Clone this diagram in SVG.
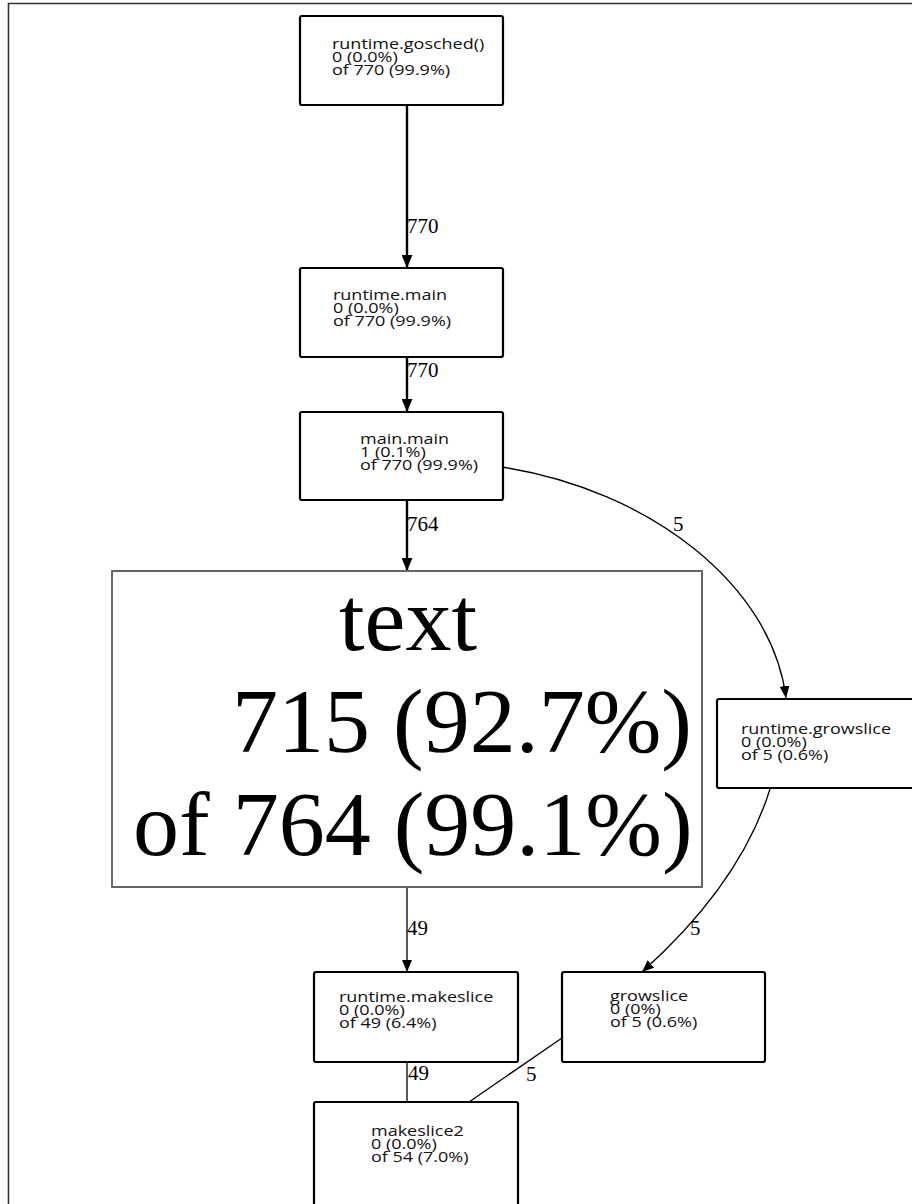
<svg xmlns="http://www.w3.org/2000/svg" width="912" height="1204" viewBox="0 0 912 1204">
<defs>
<marker id="ah" viewBox="0 0 12 10" refX="12" refY="5" markerWidth="12" markerHeight="10" markerUnits="userSpaceOnUse" orient="auto">
<path d="M0,0 L12,5 L0,10 z" fill="#000"/>
</marker>
<marker id="ahb" viewBox="0 0 12 10" refX="12" refY="5" markerWidth="13" markerHeight="11" markerUnits="userSpaceOnUse" orient="auto">
<path d="M0,0 L12,5 L0,10 z" fill="#000"/>
</marker>
</defs>
<style>
.box{fill:#fff;stroke:#000;stroke-width:2.2}
.big{fill:#fff;stroke:#666;stroke-width:2}
.nt{font-family:"Open Sans","Noto Sans",sans-serif;font-size:15px;fill:#111}
.el{font-family:"Liberation Serif",serif;font-size:21px;fill:#000}
.bt{font-family:"Liberation Serif",serif;font-size:92px;fill:#000}
.e{fill:none;stroke:#000;stroke-width:1.3}
.ew{fill:none;stroke:#000;stroke-width:2.4}
</style>
<rect x="0" y="0" width="912" height="1204" fill="#fff"/>
<path d="M8.5,1204 V3.5 H912" fill="none" stroke="#333" stroke-width="1.6"/>
<g id="connectors">
<line class="ew" x1="407" y1="105" x2="407" y2="268" marker-end="url(#ahb)"/>
<text class="el" x="407" y="233">770</text>
<line class="ew" x1="407" y1="357" x2="407" y2="412" marker-end="url(#ahb)"/>
<text class="el" x="407" y="377">770</text>
<line class="ew" x1="407" y1="500" x2="407" y2="571" marker-end="url(#ahb)"/>
<text class="el" x="407" y="531">764</text>
<path class="e" d="M502,467 C650,490 772,585 786,698" marker-end="url(#ah)"/>
<text class="el" x="673" y="531">5</text>
<line class="e" x1="407" y1="887" x2="407" y2="972" marker-end="url(#ah)"/>
<text class="el" x="407" y="935">49</text>
<path class="e" d="M770,789 C748,860 700,920 642,972" marker-end="url(#ah)"/>
<text class="el" x="690" y="935">5</text>
<line class="e" x1="407" y1="1062" x2="407" y2="1102"/>
<text class="el" x="408" y="1080">49</text>
<line class="e" x1="562" y1="1038" x2="469" y2="1102"/>
<text class="el" x="526" y="1081">5</text>
</g>
<g id="gosched">
<rect class="box" x="300" y="16" width="203" height="89" rx="2"/>
<g transform="translate(332,0) scale(1.2,1)">
<text class="nt" x="0" y="49">runtime.gosched()</text>
<text class="nt" x="0" y="62">0 (0.0%)</text>
<text class="nt" x="0" y="75">of 770 (99.9%)</text>
</g>
</g>
<g id="runtime_main">
<rect class="box" x="300" y="268" width="203" height="89" rx="2"/>
<g transform="translate(333,0) scale(1.2,1)">
<text class="nt" x="0" y="300">runtime.main</text>
<text class="nt" x="0" y="313">0 (0.0%)</text>
<text class="nt" x="0" y="326">of 770 (99.9%)</text>
</g>
</g>
<g id="main_main">
<rect class="box" x="300" y="412" width="203" height="88" rx="2"/>
<g transform="translate(360,0) scale(1.2,1)">
<text class="nt" x="0" y="444">main.main</text>
<text class="nt" x="0" y="457">1 (0.1%)</text>
<text class="nt" x="0" y="470">of 770 (99.9%)</text>
</g>
</g>
<g id="text_node">
<rect class="big" x="112" y="571" width="590" height="316"/>
<text class="bt" x="408" y="650" text-anchor="middle">text</text>
<text class="bt" x="232" y="752">715 (92.7%)</text>
<text class="bt" x="133" y="855">of 764 (99.1%)</text>
</g>
<g id="runtime_growslice">
<rect class="box" x="717" y="699" width="210" height="89" rx="2"/>
<g transform="translate(741,0) scale(1.2,1)">
<text class="nt" x="0" y="734">runtime.growslice</text>
<text class="nt" x="0" y="747">0 (0.0%)</text>
<text class="nt" x="0" y="760">of 5 (0.6%)</text>
</g>
</g>
<g id="runtime_makeslice">
<rect class="box" x="314" y="972" width="204" height="90" rx="2"/>
<g transform="translate(339,0) scale(1.2,1)">
<text class="nt" x="0" y="1002">runtime.makeslice</text>
<text class="nt" x="0" y="1015">0 (0.0%)</text>
<text class="nt" x="0" y="1028">of 49 (6.4%)</text>
</g>
</g>
<g id="growslice">
<rect class="box" x="562" y="972" width="203" height="90" rx="2"/>
<g transform="translate(610,0) scale(1.2,1)">
<text class="nt" x="0" y="1001">growslice</text>
<text class="nt" x="0" y="1014">0 (0%)</text>
<text class="nt" x="0" y="1027">of 5 (0.6%)</text>
</g>
</g>
<g id="makeslice2">
<rect class="box" x="314" y="1102" width="204" height="120" rx="2"/>
<g transform="translate(371,0) scale(1.2,1)">
<text class="nt" x="0" y="1136">makeslice2</text>
<text class="nt" x="0" y="1149">0 (0.0%)</text>
<text class="nt" x="0" y="1162">of 54 (7.0%)</text>
</g>
</g>
</svg>
